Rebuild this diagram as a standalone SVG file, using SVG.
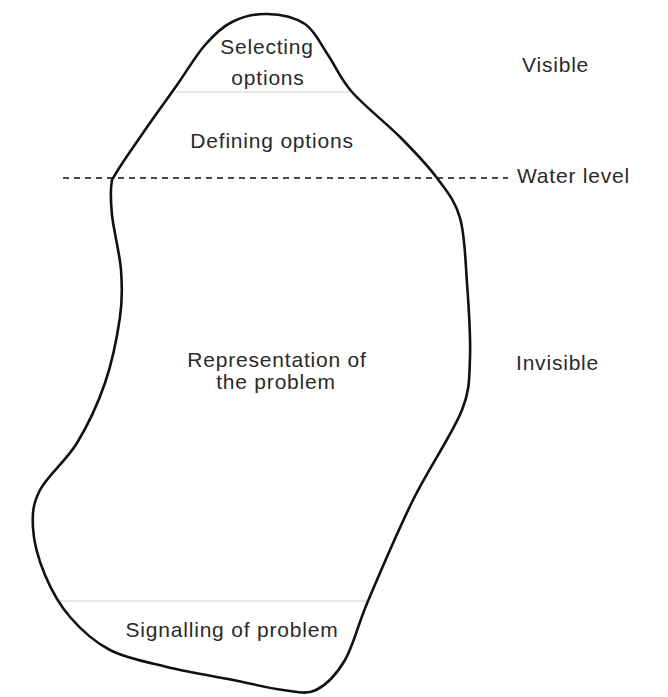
<svg xmlns="http://www.w3.org/2000/svg" width="668" height="697" viewBox="0 0 668 697">
<style>
.lbl{font-family:"Liberation Sans",Arial,sans-serif;font-size:21px;fill:#2a2a2a;letter-spacing:0.8px}
.c{text-anchor:middle}
.div{stroke:#cfcfcf;stroke-width:1.2;fill:none}
.outline{fill:none;stroke:#111;stroke-width:2.6;stroke-linejoin:round}
.water{stroke:#111;stroke-width:1.6;stroke-dasharray:6 5;fill:none}
</style>
<rect width="668" height="697" fill="#fff"/>
<g id="layers">
<line class="div" x1="176" y1="92" x2="350" y2="92"/>
<line class="div" x1="60" y1="601" x2="368" y2="601"/>
</g>
<g id="connectors">
<line id="water-line" class="water" x1="63" y1="178" x2="508" y2="178"/>
</g>
<g id="iceberg">
<path class="outline" d="M267,14 C279.2,14.3 294.8,17.2 305,24 C315.2,30.8 320.2,43.7 328,55 C335.8,66.3 340,78.3 352,92 C364,105.7 385.8,122.7 400,137 C414.2,151.3 427,164.5 437,178 C447,191.5 455,200.5 460,218 C465,235.5 465.3,259.8 467,283 C468.7,306.2 470.8,335.8 470,357 C469.2,378.2 470,390 462,410 C452.5,433.8 428.7,468.2 413,500 C397.3,531.8 379.3,574.3 368,601 C356.7,627.7 353.7,645.2 345,660 C336.3,674.8 326.3,685 316,690 C305.7,695 296.8,691.7 283,690 C269.2,688.3 252.3,683.8 233,680 C213.7,676.2 187.5,672 167,667 C146.5,662 126.2,658.3 110,650 C93.8,641.7 80.8,629.5 70,617 C59.2,604.5 51.2,589.8 45,575 C38.8,560.2 33.8,542.2 33,528 C32.2,513.8 32.7,504.2 40,490 C47.3,475.8 66.2,460.8 77,443 C87.8,425.2 97.8,404 105,383 C112.2,362 117.3,335.8 120,317 C122.7,298.2 122.3,287 121,270 C119.7,253 113.5,230 112,215 C110.5,200 110,190 112,180 C120,165 132.2,148.8 143,133 C153.8,117.2 166.7,99.7 177,85 C187.3,70.3 195.8,55.5 205,45 C214.2,34.5 221.7,27.2 232,22 C242.3,16.8 254.8,13.7 267,14 Z"/>
</g>
<g id="n-selecting"><text class="lbl c" x="267" y="54">Selecting</text><text class="lbl c" x="268" y="85">options</text></g>
<g id="n-defining"><text class="lbl c" x="272" y="148">Defining options</text></g>
<g id="n-representation"><text class="lbl c" x="277" y="367">Representation of</text><text class="lbl c" x="276" y="389">the problem</text></g>
<g id="n-signalling"><text class="lbl c" x="232" y="637">Signalling of problem</text></g>
<g id="n-visible"><text class="lbl" x="522" y="72">Visible</text></g>
<g id="n-water"><text class="lbl" x="517" y="183">Water level</text></g>
<g id="n-invisible"><text class="lbl" x="516" y="370">Invisible</text></g>
</svg>
